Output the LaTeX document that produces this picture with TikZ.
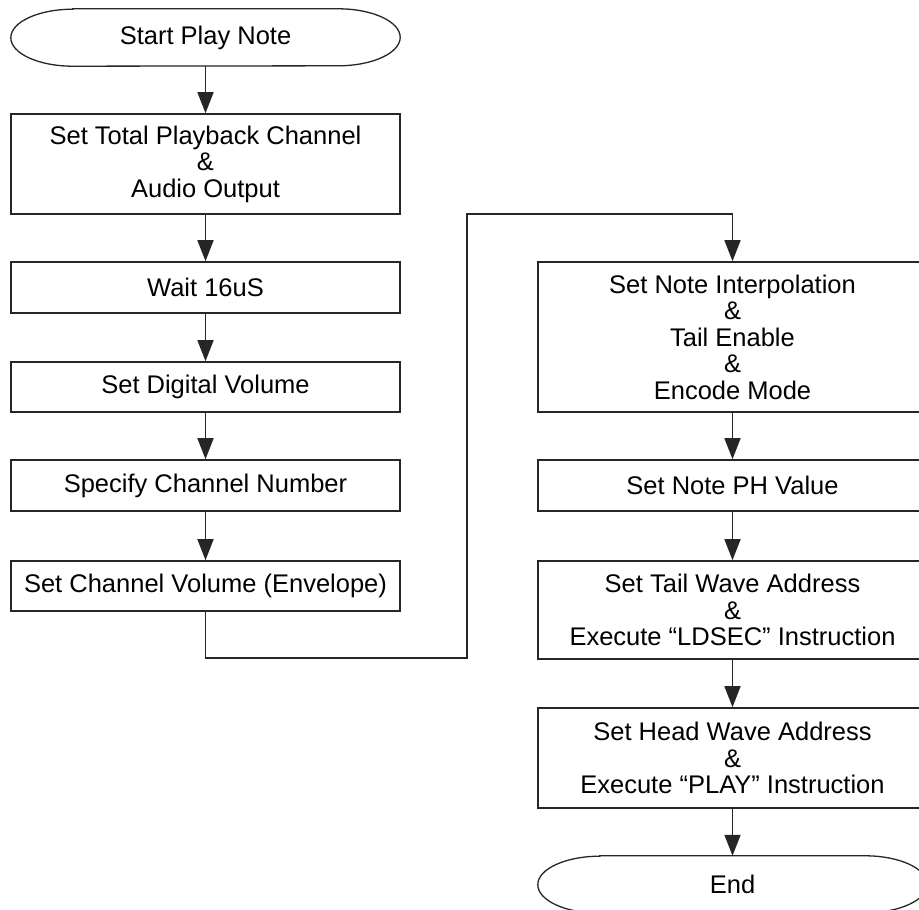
\documentclass[tikz,border=0pt]{standalone}
\usepackage{fontspec}
\setmainfont{Liberation Sans}
\usetikzlibrary{arrows.meta,calc}
\begin{document}
\begin{tikzpicture}[x=1pt,y=-1pt,
  every node/.style={font=\fontsize{25.5}{26.5}\selectfont, align=center, inner sep=0pt},
  proc/.style={draw=black!85, line width=1.6pt, rectangle, minimum width=389pt},
  term/.style={rectangle, minimum width=389pt, minimum height=57pt},
  termline/.style={draw=black!85, line width=1.6pt, densely dashed, dash pattern=on 3pt off 0.6pt},
  arr/.style={draw=black!85, line width=1.6pt, -{Triangle[length=21pt,width=16pt]}},
  conn/.style={draw=black!85, line width=1.6pt}]
\clip (0,0) rectangle (919,910);
\fill[white] (0,0) rectangle (919,910);
% left column
\node[term] (s) at (205.5,37.5) {Start Play Note};
\node[proc, minimum height=100pt] (b1) at (205.5,164) {Set Total Playback Channel\\\&\\Audio Output};
\node[proc, minimum height=51pt] (b2) at (205.5,287.5) {Wait 16uS};
\node[proc, minimum height=50pt] (b3) at (205.5,387) {Set Digital Volume};
\node[proc, minimum height=51pt] (b4) at (205.5,485.5) {Specify Channel Number};
\node[proc, minimum height=50pt] (b5) at (205.5,586) {Set Channel Volume (Envelope)};
% right column
\node[proc, minimum height=150pt] (r1) at (732.5,337) {Set Note Interpolation\\\&\\Tail Enable\\\&\\Encode Mode};
\node[proc, minimum height=51pt] (r2) at (732.5,485.5) {Set Note PH Value};
\node[proc, minimum height=98pt] (r3) at (732.5,610) {Set Tail Wave Address\\\&\\Execute “LDSEC” Instruction};
\node[proc, minimum height=100pt] (r4) at (732.5,758) {Set Head Wave Address\\\&\\Execute “PLAY” Instruction};
\node[term] (e) at (732.5,884.5) {End};
% terminator outlines
\foreach \n in {s,e}{
  \draw[draw=black!85, line width=1.3pt]
    ([xshift=62pt]\n.north west) -- ([xshift=-62pt]\n.north east)
    arc[start angle=90, end angle=-90, x radius=62pt, y radius=28.5pt]
    -- ([xshift=62pt]\n.south west)
    arc[start angle=270, end angle=90, x radius=62pt, y radius=28.5pt] -- cycle;
}
% connectors
\draw[arr] (s) -- (b1);
\draw[arr] (b1) -- (b2);
\draw[arr] (b2) -- (b3);
\draw[arr] (b3) -- (b4);
\draw[arr] (b4) -- (b5);
\coordinate (k1) at (467,658);
\coordinate (k2) at (467,214);
\draw[arr] (b5.south) |- (k1) -- (k2) -| (r1.north);
\draw[arr] (r1) -- (r2);
\draw[arr] (r2) -- (r3);
\draw[arr] (r3) -- (r4);
\draw[arr] (r4) -- (e);
\end{tikzpicture}
\end{document}
